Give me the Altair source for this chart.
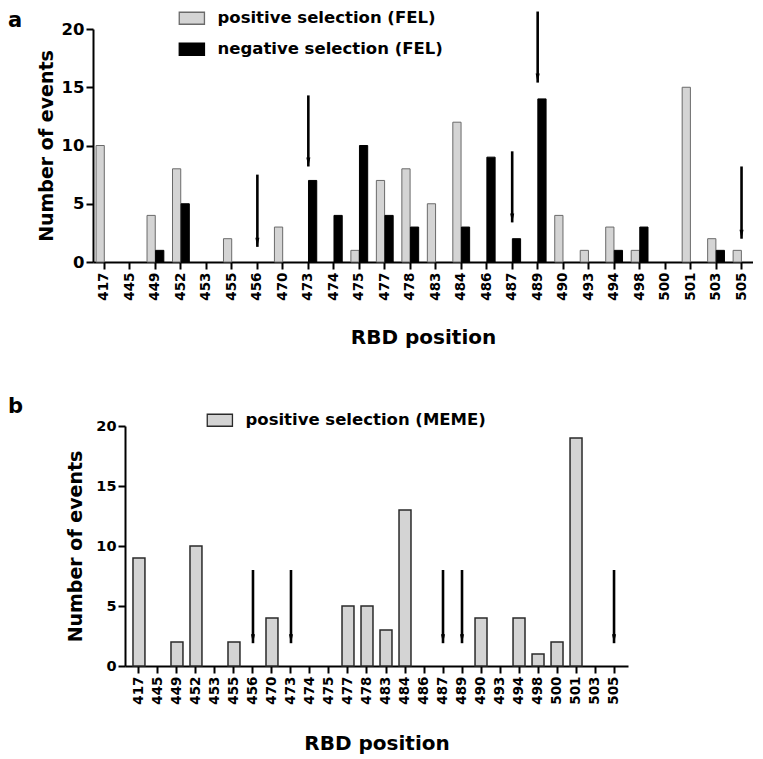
import altair as alt
import pandas as pd

FONT = "DejaVu Sans"

positions = ["417", "445", "449", "452", "453", "455", "456", "470", "473", "474",
             "475", "477", "478", "483", "484", "486", "487", "489", "490", "493",
             "494", "498", "500", "501", "503", "505"]

fel_series = ["positive selection (FEL)", "negative selection (FEL)"]
fel_positive = [10, 0, 4, 8, 0, 2, 0, 3, 0, 0, 1, 7, 8, 5, 12, 0, 0, 0, 4, 1, 3, 1, 0, 15, 2, 1]
fel_negative = [0, 0, 1, 5, 0, 0, 0, 0, 7, 4, 10, 4, 3, 0, 3, 9, 2, 14, 0, 0, 1, 3, 0, 0, 1, 0]

meme_series = ["positive selection (MEME)"]
meme_positive = [9, 0, 2, 10, 0, 2, 0, 4, 0, 0, 0, 5, 5, 3, 13, 0, 0, 0, 4, 0, 4, 1, 2, 19, 0, 0]

# arrows: position, start value (tail), end value (head tip)
fel_arrow_pos = ["456", "473", "487", "489", "505"]
fel_arrow_tail = [7.5, 14.3, 9.5, 21.5, 8.2]
fel_arrow_tip = [1.3, 8.2, 3.4, 15.4, 2.0]

meme_arrow_pos = ["456", "473", "487", "489", "505"]
meme_arrow_tail = [8.0, 8.0, 8.0, 8.0, 8.0]
meme_arrow_tip = [1.9, 1.9, 1.9, 1.9, 1.9]

panel_labels = ["a", "b"]

Y_TITLE = "Number of events"
X_TITLE = "RBD position"
LEGEND_SHAPE = "M-1,-1H3.2V1H-1Z"
ARROW_SHAPE = "M0,1L-0.45,-1L0.45,-1Z"


def panel(df, series, fills, strokes, stroke_w, arrows, label, width, height,
          x_range, pad_inner, pad_outer, ylab_size, legend_x, legend_y, label_x, label_y,
          y_title_pad, x_title_pad, y_offset):
    xscale = alt.Scale(domain=positions, paddingInner=pad_inner, paddingOuter=pad_outer,
                       range=x_range)
    yscale = alt.Scale(domain=[0, 20], nice=False)
    xaxis = alt.Axis(title=X_TITLE, labelAngle=270, labelAlign="right",
                     labelBaseline="middle", labelFontSize=13.5, labelPadding=3,
                     titlePadding=x_title_pad, titleFontSize=20)
    yaxis = alt.Axis(title=Y_TITLE, values=[0, 5, 10, 15, 20], labelFontSize=ylab_size,
                     labelPadding=2, titlePadding=y_title_pad, titleFontSize=19,
                     offset=y_offset)
    enc = dict(
        x=alt.X("position:N", sort=positions, scale=xscale, axis=xaxis),
        y=alt.Y("count:Q", scale=yscale, axis=yaxis),
        fill=alt.Fill("series:N", sort=series,
                      scale=alt.Scale(domain=series, range=fills),
                      legend=alt.Legend(title=None, orient="none", legendX=legend_x,
                                        legendY=legend_y, labelFontSize=16.5,
                                        labelFont=FONT, labelFontWeight="bold",
                                        labelColor="black", labelLimit=0,
                                        symbolType=LEGEND_SHAPE,
                                        symbolSize=144, symbolStrokeColor="#333333",
                                        symbolStrokeWidth=1.3, labelOffset=24,
                                        rowPadding=13, padding=0, symbolOpacity=1)),
        stroke=alt.Stroke("series:N", scale=alt.Scale(domain=series, range=strokes),
                          legend=None),
    )
    if len(series) > 1:
        enc["xOffset"] = alt.XOffset("series:N", sort=series,
                                     scale=alt.Scale(domain=series, paddingInner=0.04))
    bars = alt.Chart(df).mark_bar(strokeWidth=stroke_w, opacity=1).encode(**enc) \
        .transform_filter("datum.count > 0")

    ax = alt.X("position:N", sort=positions, scale=xscale, axis=xaxis)
    shafts = alt.Chart(arrows).mark_rule(color="black", strokeWidth=2.6).encode(
        x=ax,
        y=alt.Y("tail:Q", scale=yscale, axis=yaxis),
        y2="tip:Q",
    )
    heads = alt.Chart(arrows).mark_point(shape=ARROW_SHAPE, filled=True, size=81,
                                         color="black", opacity=1, yOffset=-4.5).encode(
        x=ax,
        y=alt.Y("tip:Q", scale=yscale, axis=yaxis),
    )
    lab = alt.Chart(pd.DataFrame({"label": [label]})).mark_text(
        align="left", baseline="alphabetic", fontSize=21, fontWeight="bold",
        font=FONT, color="black").encode(
        text="label:N", x=alt.value(label_x), y=alt.value(label_y))
    return alt.layer(bars, shafts, heads, lab).properties(width=width, height=height)


df_top = pd.DataFrame({
    "position": positions * 2,
    "series": [fel_series[0]] * len(positions) + [fel_series[1]] * len(positions),
    "count": fel_positive + fel_negative,
})
df_bot = pd.DataFrame({
    "position": positions,
    "series": [meme_series[0]] * len(positions),
    "count": meme_positive,
})
arr_top = pd.DataFrame({"position": fel_arrow_pos, "tail": fel_arrow_tail, "tip": fel_arrow_tip})
arr_bot = pd.DataFrame({"position": meme_arrow_pos, "tail": meme_arrow_tail, "tip": meme_arrow_tip})

SHIFT = 32
top = panel(df_top, fel_series, ["#d4d4d4", "#000000"], ["#6a6a6a", "#000000"], 1.0,
            arr_top, panel_labels[0], 660, 233, [0, 660], 0.34, 0.12, 16.5,
            84, -19, -85, -2, 5, 27, 0)
bot = panel(df_bot, meme_series, ["#d4d4d4"], ["#2a2a2a"], 1.5,
            arr_bot, panel_labels[1], 503 + SHIFT, 240, [SHIFT, 503 + SHIFT], 0.37, 0.42, 14.5,
            80 + SHIFT, -14, -117 + SHIFT, -13, 10, 29, -SHIFT)

chart = alt.vconcat(top, bot, spacing=48).resolve_scale(
    x="independent", y="independent", fill="independent", stroke="independent", xOffset="independent"
).resolve_legend(fill="independent").properties(
    padding={"left": 0, "top": 2, "right": 0, "bottom": 0}
).configure_view(stroke=None).configure_axis(
    domainColor="black", domainWidth=2, tickColor="black", tickWidth=2, tickSize=7,
    labelFont=FONT, labelFontWeight="bold", labelColor="black",
    titleFont=FONT, titleFontWeight="bold", titleColor="black", grid=False,
)

chart.save("out.html", embed_options={"renderer": "svg", "actions": False})
